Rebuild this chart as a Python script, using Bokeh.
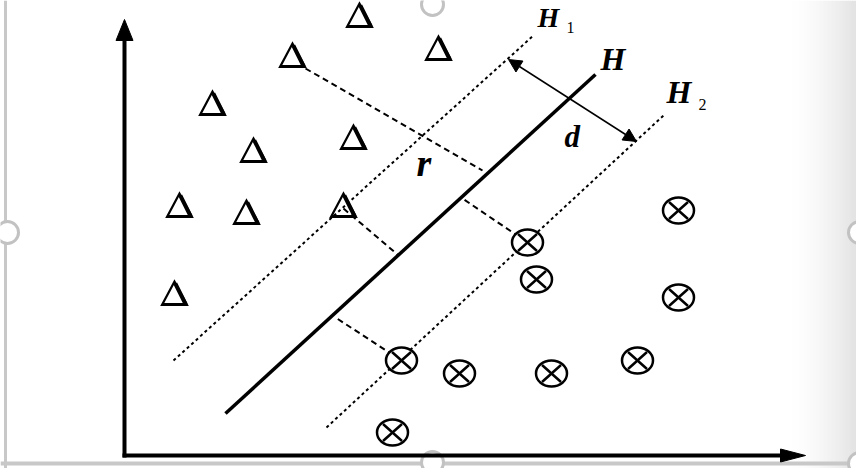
import numpy as np
from bokeh.plotting import figure
from bokeh.models import Range1d, Arrow, NormalHead
from bokeh.core.properties import value
from bokeh.embed import file_html
from bokeh.resources import INLINE

# ---- data (reference pixel coordinates) ----
# class A samples (triangles)
tri_x = [359, 292, 438, 212, 253, 353, 179, 246, 343, 174]
tri_y = [15, 55, 48, 103, 150, 137, 205, 212, 205, 293]
# class B samples (circled crosses)
cir_x = [527, 536, 678, 678, 637, 459, 551, 401, 392]
cir_y = [242, 279, 210, 297, 360, 373, 373, 360, 432]

# separating hyperplane H and margins H1, H2
H_x = [225, 595]
H_y = [413, 74]
H1_x = [173, 533]
H1_y = [360, 35]
H2_x = [326, 663]
H2_y = [427, 115]

# perpendicular distance segments
perp_x0 = [305, 343, 527, 401]
perp_y0 = [68, 208, 242, 360]
perp_x1 = [482, 397, 462, 335]
perp_y1 = [170, 254, 198, 317]

# margin width arrow d
d_x = [508, 636]
d_y = [59, 141]

# axes
origin = (124, 455)
y_axis_end = 19
x_axis_end = 805

# labels
lab_text = ["H", "H", "H", "d", "r"]
lab_x = [537, 600, 666, 564, 416]
lab_y = [29, 70, 103, 148, 176]
lab_size = ["28px", "32px", "32px", "31px", "38px"]
sub_text = ["1", "2"]
sub_x = [566, 698]
sub_y = [33, 110]

# selection handles of the image frame
handle_x = [432, 432, 7, 859, 859]
handle_y = [4, 462, 232, 232, 463]
# frame border lines
border_left_x = 5
border_bottom_y = 463

# ---- figure ----
W, H = 856, 468
p = figure(width=W, height=H, output_backend="svg", toolbar_location=None,
           x_range=Range1d(0, W), y_range=Range1d(H, 0),
           x_axis_type=None, y_axis_type=None, min_border=0)
p.grid.visible = False
p.outline_line_color = None
p.background_fill_color = "white"
p.border_fill_color = "white"

# right-edge shading
gx = np.linspace(790, 856, 34)
levels = (255 - 28 * np.linspace(0, 1, 33) ** 1.6).astype(int)
gcols = ["#%02x%02x%02x" % (l, l, l) for l in levels]
p.quad(left=gx[:-1], right=gx[1:] + 0.5, top=0, bottom=H, color=gcols, line_color=None)

# frame border
p.line([border_left_x, border_left_x], [0, H], line_width=3, color="#c8c8c8")
p.line([0, W], [border_bottom_y, border_bottom_y], line_width=4, color="#c8c8c8")

# handles
p.circle(handle_x, handle_y, radius=11, fill_color="white", line_color="#c2c2c2", line_width=3)

# axes
ox, oy = origin
p.line([ox, ox], [oy + 2, y_axis_end + 18], line_width=4, color="black")
p.line([ox - 2, x_axis_end - 22], [oy, oy], line_width=4, color="black")
p.patch([ox, ox - 8.5, ox + 8.5], [y_axis_end, y_axis_end + 21, y_axis_end + 21], color="black")
p.patch([x_axis_end, x_axis_end - 25, x_axis_end - 25], [oy, oy - 6.5, oy + 6.5], color="black")

# hyperplanes
p.line(H_x, H_y, line_width=3.5, color="black")
p.line(H1_x, H1_y, line_width=2, color="black", line_dash="3 3")
p.line(H2_x, H2_y, line_width=2, color="black", line_dash="3 3")

# perpendicular distances
p.segment(perp_x0, perp_y0, perp_x1, perp_y1, line_width=2, color="black", line_dash="6 4")

# margin arrow
p.add_layout(Arrow(x_start=d_x[0], y_start=d_y[0], x_end=d_x[1], y_end=d_y[1],
                   line_width=1.5, line_color="black",
                   start=NormalHead(size=13, fill_color="black", line_color="black", line_width=1),
                   end=NormalHead(size=13, fill_color="black", line_color="black", line_width=1)))

# class A: triangles (outline with heavier right stroke, like a serif Delta)
tx = np.array(tri_x, dtype=float)
ty = np.array(tri_y, dtype=float)
hw, top, bot = 12.5, 12.0, 11.5
p.patches([[x, x - hw, x + hw] for x in tx], [[y - top, y + bot, y + bot] for y in ty],
          fill_color=None, line_color="black", line_width=2.2, line_join="miter")
p.segment(tx + 0.8, ty - top + 2, tx + hw - 1.2, ty + bot - 0.5, line_width=4, color="black")
p.segment(tx - hw + 1, ty + bot - 0.5, tx + hw - 0.5, ty + bot - 0.5, line_width=3, color="black")

# class B: circled crosses
p.ellipse(cir_x, cir_y, width=31, height=26, fill_color="white", line_color="black", line_width=2.5)
cx = np.array(cir_x)
cy = np.array(cir_y)
p.segment(cx - 9.5, cy - 8.5, cx + 9.5, cy + 8.5, line_width=2.5, color="black")
p.segment(cx - 9.5, cy + 8.5, cx + 9.5, cy - 8.5, line_width=2.5, color="black")

# labels
lab_off = [-12, -12, -12, -12, -14]
p.text(lab_x, lab_y, text=lab_text, text_font=value("Liberation Serif"),
       text_font_style="bold italic", text_font_size=lab_size,
       text_align="left", text_baseline="alphabetic", text_color="black", y_offset=lab_off)
p.text(sub_x, sub_y, text=sub_text, text_font=value("Liberation Serif"),
       text_font_size="16px", text_align="left", text_baseline="alphabetic",
       text_color="black", y_offset=-6)

open("out.html", "w").write(file_html(p, INLINE))
